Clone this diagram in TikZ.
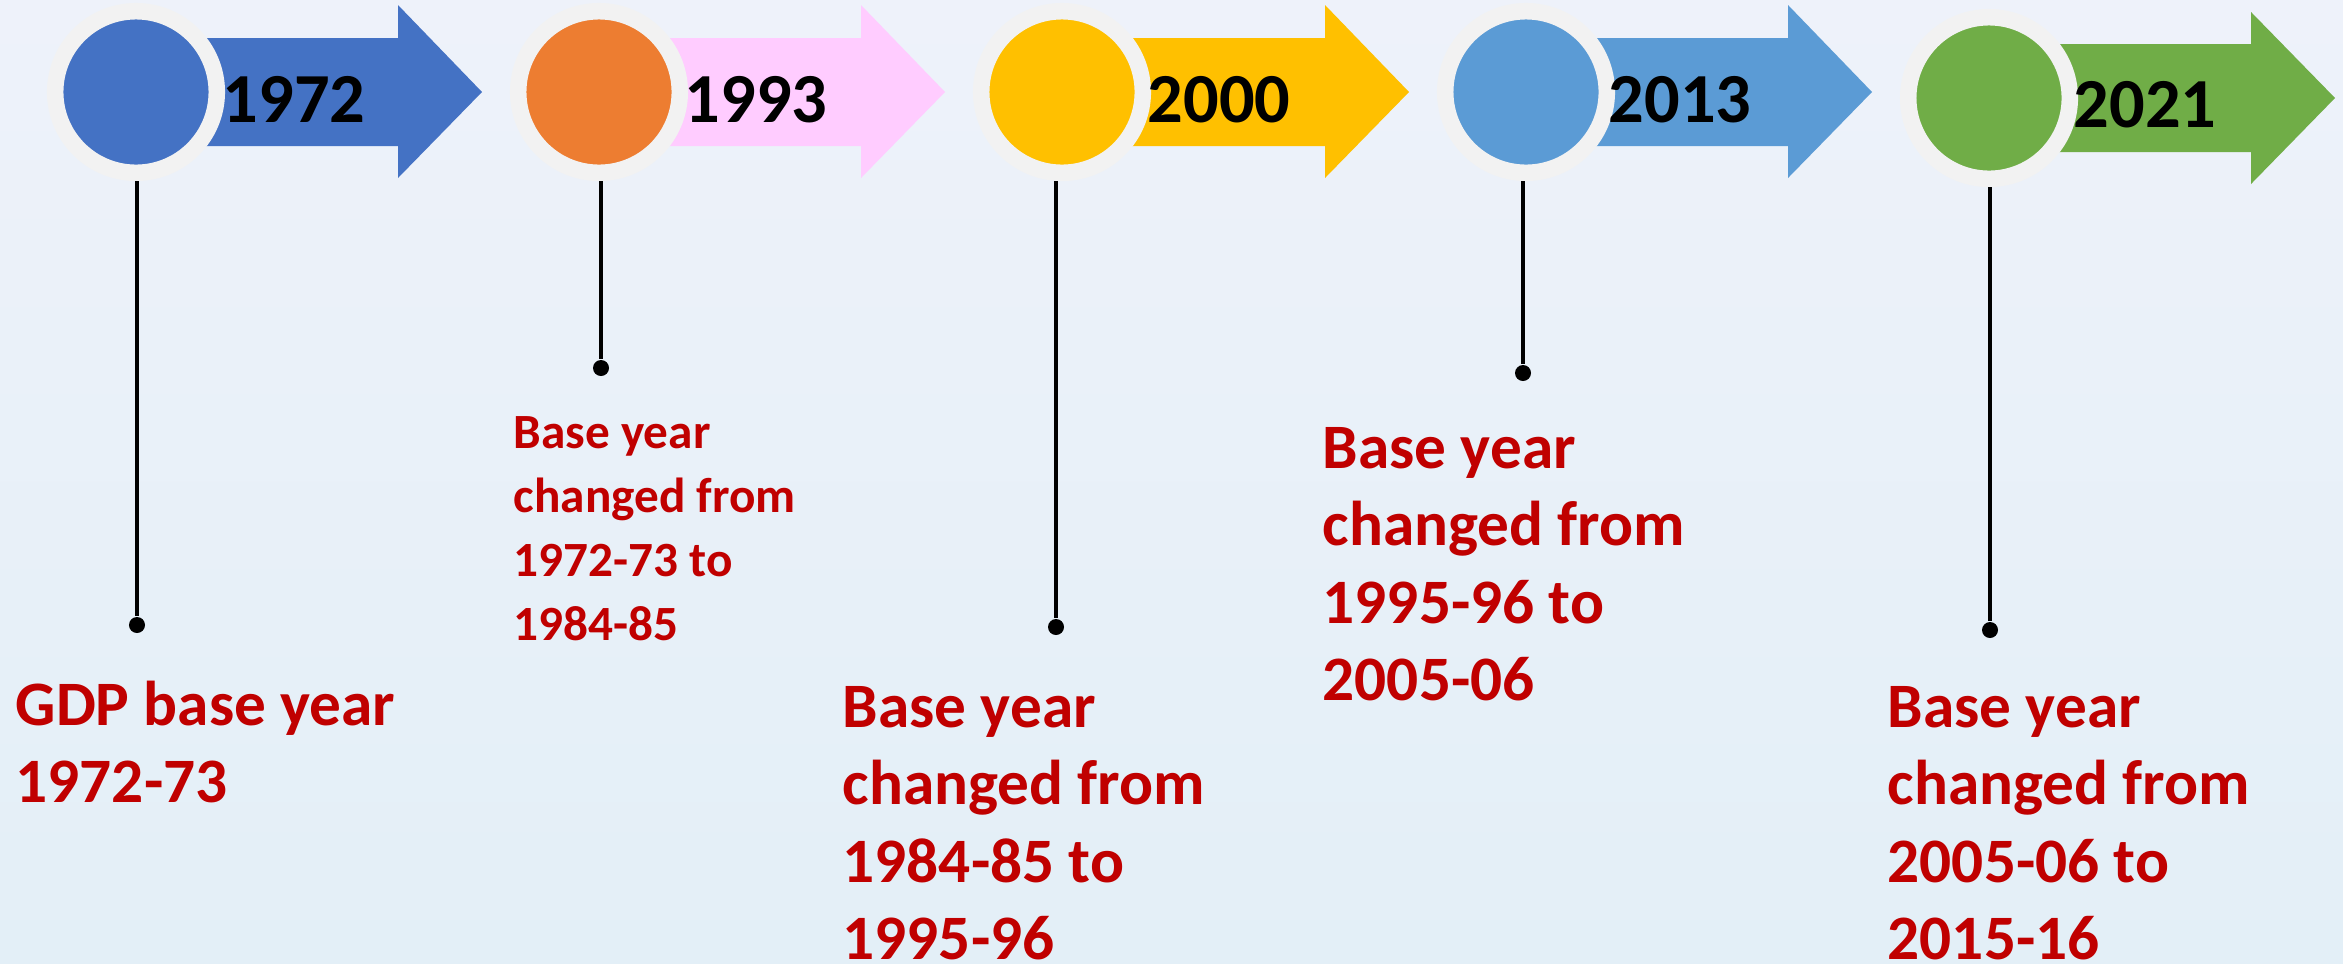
\documentclass[tikz,border=0pt]{standalone}
\usepackage{fontspec}
\setmainfont{Carlito}
\definecolor{ringgray}{HTML}{F2F2F2}
\definecolor{navyblue}{HTML}{4472C4}
\definecolor{dorange}{HTML}{ED7D31}
\definecolor{lpink}{HTML}{FFCCFF}
\definecolor{gold}{HTML}{FFC000}
\definecolor{skyblue}{HTML}{5B9BD5}
\definecolor{lgreen}{HTML}{70AD47}
\definecolor{darkred}{HTML}{C00000}
\definecolor{bgtop}{HTML}{EEF2FA}
\definecolor{bgbot}{HTML}{E3EFF7}
\begin{document}
\begin{tikzpicture}[x=0.01cm, y=-0.01cm,
    yearball/.style={circle, draw=ringgray, line width=0.165cm, fill=#1, minimum size=1.615cm, inner sep=0pt},
    yeartxt/.style={anchor=base west, inner sep=0pt, font=\fontsize{20}{24}\selectfont\bfseries},
    note/.style={anchor=base west, inner sep=0pt, align=left, text=darkred, font=\fontsize{18}{21.9}\selectfont\bfseries},
    smallnote/.style={note, font=\fontsize{14}{18.2}\selectfont\bfseries},
    dot/.style={circle, fill=black, minimum size=0.16cm, inner sep=0pt},
    stem/.style={line width=0.04cm}]
\useasboundingbox (0,0) rectangle (2343,963);
\fill[top color=bgtop, bottom color=bgbot] (0,0) rectangle (2343,963);
% arrows
\fill[navyblue] (136,38)--(398,38)--(398,5)--(482,92)--(398,178)--(398,146)--(136,146)--cycle;
\fill[lpink] (599,38)--(861,38)--(861,5)--(945,92)--(861,178)--(861,146)--(599,146)--cycle;
\fill[gold] (1062,38)--(1325,38)--(1325,5)--(1409,92)--(1325,178)--(1325,146)--(1062,146)--cycle;
\fill[skyblue] (1526,38)--(1788,38)--(1788,5)--(1872,92)--(1788,178)--(1788,146)--(1526,146)--cycle;
\fill[lgreen] (1989,44)--(2251,44)--(2251,12)--(2335,98)--(2251,184)--(2251,152)--(1989,152)--cycle;
% balls
\node[yearball=navyblue] (c1) at (136,92) {};
\node[yearball=dorange] (c2) at (599,92) {};
\node[yearball=gold] (c3) at (1062,92) {};
\node[yearball=skyblue] (c4) at (1526,92) {};
\node[yearball=lgreen] (c5) at (1989,98) {};
\node[yeartxt] (y1) at (222,122) {1972};
\node[yeartxt] (y2) at (684,122) {1993};
\node[yeartxt] (y3) at (1147,122) {2000};
\node[yeartxt] (y4) at (1608,122) {2013};
\node[yeartxt] (y5) at (2073,127) {2021};
% stems
\node[dot] (d1) at (137,625) {};
\node[dot] (d2) at (601,368) {};
\node[dot] (d3) at (1056,627) {};
\node[dot] (d4) at (1523,373) {};
\node[dot] (d5) at (1990,630) {};
\draw[stem] (d1 |- c1.south)--(d1);
\draw[stem] (d2 |- c2.south)--(d2);
\draw[stem] (d3 |- c3.south)--(d3);
\draw[stem] (d4 |- c4.south)--(d4);
\draw[stem] (d5 |- c5.south)--(d5);
% notes (base = last line)
\node[note] (n1) at (15,802) {GDP base year\\1972-73};
\node[smallnote] (n2) at (513,640) {Base year\\changed from\\1972-73 to\\1984-85};
\node[note] (n3) at (842,959) {Base year\\changed from\\1984-85 to\\1995-96};
\node[note] (n4) at (1322,700) {Base year\\changed from\\1995-96 to\\2005-06};
\node[note] (n5) at (1887,959) {Base year\\changed from\\2005-06 to\\2015-16};
\end{tikzpicture}
\end{document}
